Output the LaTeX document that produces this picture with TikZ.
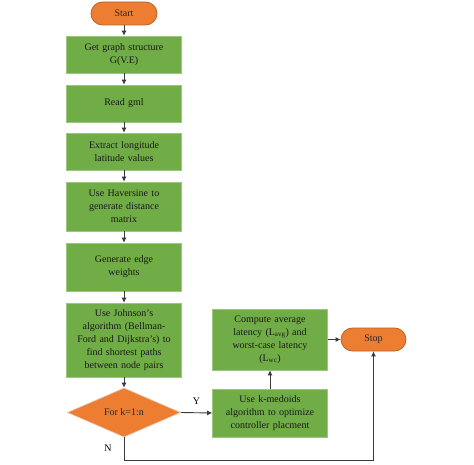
\documentclass[tikz,border=0pt]{standalone}
\usepackage{fontspec}
\setmainfont{Liberation Serif}
\usetikzlibrary{shapes.geometric, arrows.meta}
\definecolor{boxgreen}{HTML}{70AD47}
\definecolor{boxedge}{HTML}{9CC77E}
\definecolor{termorange}{HTML}{ED7D31}
\definecolor{termedge}{HTML}{B8632A}
\definecolor{flowline}{HTML}{3A3A3A}
\tikzset{
  stepbox/.style={rectangle, draw=boxedge, fill=boxgreen, line width=0.6pt,
    minimum width=115pt, text width=108pt, align=center, inner sep=0pt,
    font=\fontsize{10}{13}\selectfont, text=black!90},
  terminal/.style={rectangle, rounded corners=11.5pt, draw=termedge, fill=termorange,
    line width=0.8pt, minimum height=23pt, font=\fontsize{10}{12}\selectfont, text=black!85},
  decision/.style={diamond, draw=termedge!40!white, fill=termorange, line width=0.6pt,
    aspect=2.3, inner sep=0pt, minimum width=113pt, minimum height=49pt,
    font=\fontsize{10}{12}\selectfont, text=black!85},
  flow/.style={draw=flowline, line width=0.9pt, -{Latex[length=5pt,width=5pt]}}
}

\begin{document}
\begin{tikzpicture}[x=1pt, y=-1pt]
\useasboundingbox[fill=white] (0,0) rectangle (474,465);
% Main column
    \node[terminal, minimum width=66pt] (start) at (124,13.5) {Start};
    \node[stepbox, minimum height=37pt] (graph) at (124,54.5) {Get graph structure\\G(V.E)};
    \node[stepbox, minimum height=37pt] (gml) at (124,103.5) {Read gml};
    \node[stepbox, minimum height=37pt] (lonlat) at (124,151.5) {Extract longitude\\latitude values};
    \node[stepbox, minimum height=49pt] (haver) at (124,206.5) {Use Haversine to\\generate distance\\matrix};
    \node[stepbox, minimum height=48pt] (weights) at (124,267) {Generate edge\\weights};
    \node[stepbox, minimum height=74pt] (johnson) at (124,340) {Use Johnson's\\algorithm (Bellman-\\Ford and Dijkstra's) to\\find shortest paths\\between node pairs};
    \node[decision] (loop) at (124,412.5) {For k=1:n};
% Right column
    \node[stepbox, minimum height=48pt] (medoids) at (270,413) {Use k-medoids\\algorithm to optimize\\controller placment};
    \node[stepbox, minimum height=61pt] (latency) at (270,339.5) {Compute average\\latency (L\textsubscript{avg}) and\\worst-case latency\\(L\textsubscript{wc})};
    \node[terminal, minimum width=65pt] (stop) at (373.5,339.5) {Stop};
% Connectors
    \draw[flow] (start) -- (graph);
    \draw[flow] (graph) -- (gml);
    \draw[flow] (gml) -- (lonlat);
    \draw[flow] (lonlat) -- (haver);
    \draw[flow] (haver) -- (weights);
    \draw[flow] (weights) -- (johnson);
    \draw[flow] (johnson) -- (loop);
    \draw[flow] (loop.east) -- node[above=4pt, pos=0.5, font=\fontsize{10}{12}\selectfont] {Y} (medoids.west);
    \draw[flow] (medoids) -- (latency);
    \draw[flow] (latency.east) -- (stop.west);
    \draw[flow] (loop.south) -- ++(0,23.5) -| (stop.south);
    \node[font=\fontsize{10}{12}\selectfont] (nlabel) at (108,448) {N};
\end{tikzpicture}
\end{document}
